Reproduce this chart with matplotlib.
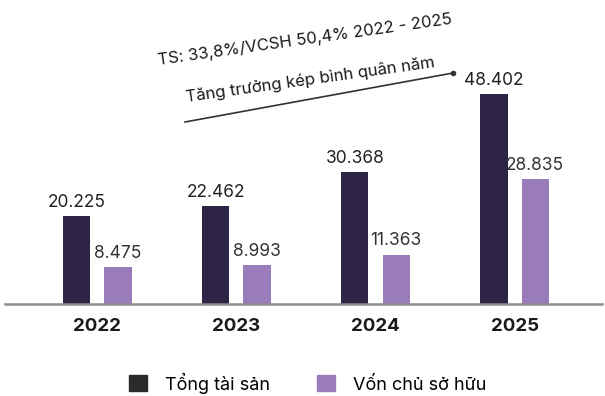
import matplotlib.pyplot as plt
from matplotlib.patches import Patch
import numpy as np

plt.rcParams['font.family'] = ['Inter', 'DejaVu Sans']

years = ['2022', '2023', '2024', '2025']
tong_tai_san = [20.225, 22.462, 30.368, 48.402]
von_chu_so_huu = [8.475, 8.993, 11.363, 28.835]
labels_ts = ['20.225', '22.462', '30.368', '48.402']
labels_vc = ['8.475', '8.993', '11.363', '28.835']

dark = '#2e2446'
light = '#9a7cba'

fig = plt.figure(figsize=(6.05, 3.96), dpi=100)
ax = fig.add_axes([0, 1 - 304 / 396, 1, 304 / 396])

x = np.arange(len(years))
w = 0.195
off = 0.148
ax.bar(x - off, tong_tai_san, w, color=dark)
ax.bar(x + off, von_chu_so_huu, w, color=light)

for xi, v, s in zip(x, tong_tai_san, labels_ts):
    ax.text(xi - off, v + 1.2, s, ha='center', va='bottom', fontsize=12.5, color='#222222')
for xi, v, s in zip(x, von_chu_so_huu, labels_vc):
    ax.text(xi + off, v + 1.2, s, ha='center', va='bottom', fontsize=12.5, color='#333333')

ax.set_xlim(-0.70, 3.65)
ax.set_ylim(0, 70)
ax.axhline(0, xmin=0.008, xmax=0.995, color='#8c8c8c', lw=1.8, clip_on=False)
for s in ax.spines.values():
    s.set_visible(False)
ax.set_yticks([])
ax.set_xticks(x)
ax.set_xticklabels(years, fontsize=13.5, fontweight='bold', color='#1a1a1a')
ax.tick_params(axis='x', length=0, pad=10)
ax.patch.set_alpha(0)

# CAGR note with trend line
fig.add_artist(plt.Line2D([185 / 605, 453 / 605], [1 - 122 / 396, 1 - 73 / 396],
                          color='#333333', lw=1.2))
fig.add_artist(plt.Line2D([453 / 605], [1 - 73 / 396], marker='o', ms=3,
                          color='#333333'))
fig.text(305 / 605, 1 - 40 / 396, 'TS: 33,8%/VCSH 50,4% 2022 - 2025',
         ha='center', va='center', rotation=8, rotation_mode='anchor',
         fontsize=12, color='#1a1a1a')
fig.text(310 / 605, 1 - 80 / 396, 'Tăng trưởng kép bình quân năm',
         ha='center', va='center', rotation=8, rotation_mode='anchor',
         fontsize=12, color='#1a1a1a')

handles = [Patch(color='#2b2b2b'), Patch(color=light)]
fig.legend(handles, ['Tổng tài sản', 'Vốn chủ sở hữu'], loc='center',
           bbox_to_anchor=(308 / 605, 1 - 383 / 396), ncol=2, frameon=False,
           fontsize=13, handlelength=1.0, handleheight=1.0,
           handletextpad=1.0, columnspacing=2.6)

fig.savefig('out.png', dpi=100)
